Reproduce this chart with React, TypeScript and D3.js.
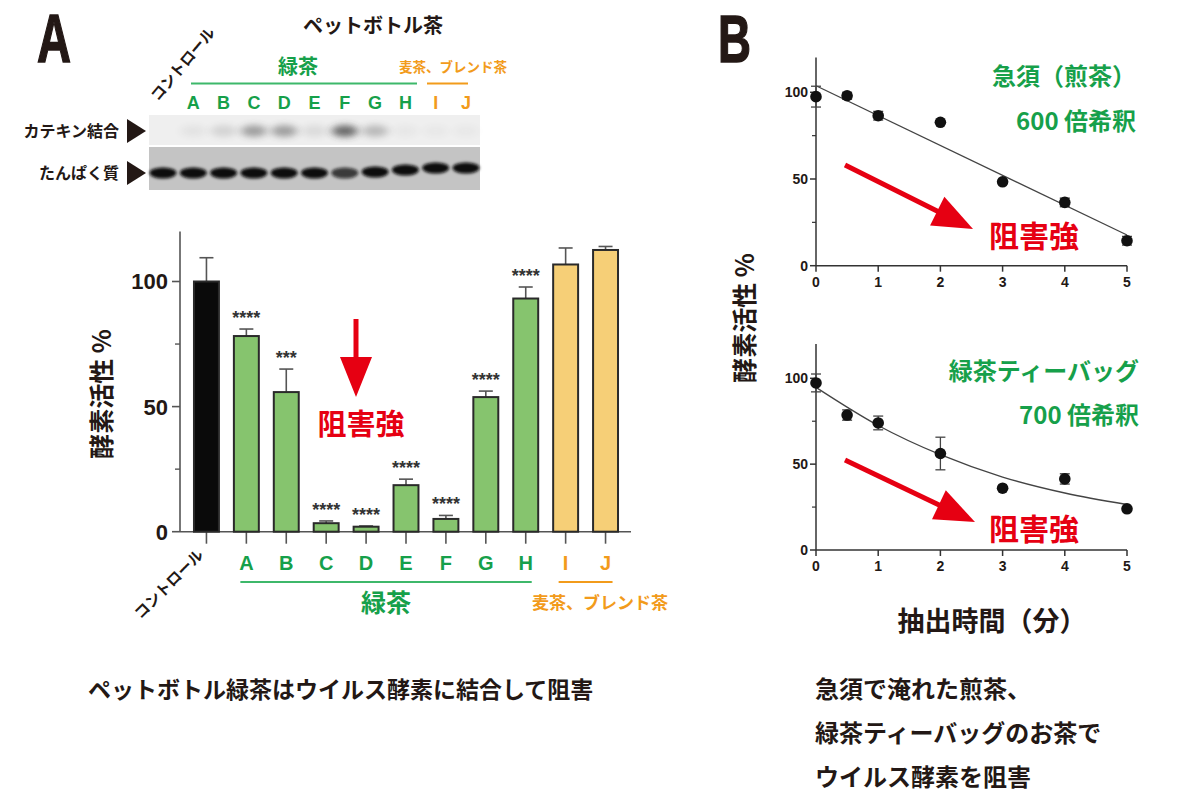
import React from "react";
import * as d3 from "d3";

// ---------- data ----------
const barCategories = ["コントロール", "A", "B", "C", "D", "E", "F", "G", "H", "I", "J"];
const barGroups = ["control", "green", "green", "green", "green", "green", "green", "green", "green", "other", "other"];
const barValues = [100, 78.2, 55.8, 3.4, 2.0, 18.6, 5.1, 53.8, 93.2, 106.8, 112.6];
const barErrors = [9.5, 2.8, 9.2, 0.9, 0.3, 2.4, 1.4, 2.4, 4.6, 6.6, 1.4];
const barStars = ["", "****", "***", "****", "****", "****", "****", "****", "****", "", ""];
const barYTicks = [0, 50, 100];
const barYMinor = [25, 75];

// gel (western blot) lane intensities, control + A..J
const gelLanes = ["control", "A", "B", "C", "D", "E", "F", "G", "H", "I", "J"];
const catechinBand = [0.0, 0.06, 0.14, 0.42, 0.42, 0.1, 0.7, 0.28, 0.04, 0.03, 0.03];
const proteinBand = [1, 1, 1, 1, 1, 1, 0.75, 1, 1, 1, 1];
const proteinShift = [0, 0, 0, 0, 0, 0, 0, -1, -3, -5, -5];

const timeTicks = [0, 1, 2, 3, 4, 5];
const lineYTicks = [0, 50, 100];
const lineYMinor = [25, 75];

const kyusuTimes = [0, 0.5, 1, 2, 3, 4, 5];
const kyusuValues = [97.5, 98, 86.5, 82.7, 48.4, 36.5, 14.4];
const kyusuErrors = [6, 2, 2.5, 0, 0, 2.5, 2.5];
const kyusuFitTimes = [0, 5];
const kyusuFitValues = [103.8, 17.7];

const bagTimes = [0, 0.5, 1, 2, 3, 4, 5];
const bagValues = [97.3, 78.6, 74, 56.2, 36, 41.4, 24];
const bagErrors = [5.2, 3, 4, 9.5, 0, 3, 0];
const bagFitTimes = [0, 1, 2, 3, 4, 5];
const bagFitValues = [94.7, 72.5, 55.5, 42.5, 33.2, 26.5];

// ---------- style ----------
const DARK = "#231815";
const GREEN_TXT = "#16a04a";
const ORANGE_TXT = "#f29b1b";
const GREEN_BAR = "#86c46e";
const ORANGE_BAR = "#f6cf77";
const RED = "#e60012";
const JP = "'Noto Sans CJK JP', 'Noto Sans', sans-serif";
const LAT = "'Liberation Sans', Arial, sans-serif";

function Arrow({ x1, y1, x2, y2, head = 40, half = 16, width = 5 }) {
  const dx = x2 - x1, dy = y2 - y1;
  const L = Math.hypot(dx, dy);
  const ux = dx / L, uy = dy / L;
  const nx = -uy, ny = ux;
  const bx = x2 - ux * head, by = y2 - uy * head;
  const pts = [
    [x2, y2],
    [bx + nx * half, by + ny * half],
    [bx - nx * half, by - ny * half],
  ];
  return (
    <g>
      <line x1={x1} y1={y1} x2={bx + ux * 2} y2={by + uy * 2} stroke={RED} strokeWidth={width} />
      <polygon points={pts.map((p) => p.join(",")).join(" ")} fill={RED} />
    </g>
  );
}

function LinePanel({ top, bottom, times, values, errors, fitT, fitV, curved, title1, title2, titleRight, titleY, arrow }) {
  const x = d3.scaleLinear().domain([0, 5]).range([816, 1127]);
  const y = d3.scaleLinear().domain([0, 100]).range([bottom, top]);
  const yTop = y(120);
  const line = d3
    .line<number>()
    .x((_, i) => x(fitT[i]))
    .y((d) => y(d))
    .curve(curved ? d3.curveMonotoneX : d3.curveLinear);
  return (
    <g>
      <line x1={x(0)} y1={yTop} x2={x(0)} y2={y(0)} stroke="#333" strokeWidth={1.5} />
      <line x1={x(0)} y1={y(0)} x2={x(5)} y2={y(0)} stroke="#333" strokeWidth={1.5} />
      {lineYTicks.map((t) => (
        <g key={t}>
          <line x1={x(0) - 6} x2={x(0)} y1={y(t)} y2={y(t)} stroke="#333" strokeWidth={1.5} />
          <text x={x(0) - 8} y={y(t)} dy="0.35em" textAnchor="end" fontFamily={LAT} fontWeight="bold" fontSize={14} fill={DARK}>
            {t}
          </text>
        </g>
      ))}
      {lineYMinor.map((t) => (
        <line key={t} x1={x(0) - 4} x2={x(0)} y1={y(t)} y2={y(t)} stroke="#333" strokeWidth={1.2} />
      ))}
      {timeTicks.map((t) => (
        <g key={t}>
          <line x1={x(t)} x2={x(t)} y1={y(0)} y2={y(0) + 6} stroke="#333" strokeWidth={1.5} />
          <text x={x(t)} y={y(0) + 21} textAnchor="middle" fontFamily={LAT} fontWeight="bold" fontSize={14} fill={DARK}>
            {t}
          </text>
        </g>
      ))}
      <path d={line(fitV) || ""} fill="none" stroke="#444" strokeWidth={1.3} />
      {times.map((t, i) => (
        <g key={i}>
          {errors[i] > 0 && (
            <g stroke="#444" strokeWidth={1.3}>
              <line x1={x(t)} x2={x(t)} y1={y(values[i] - errors[i])} y2={y(values[i] + errors[i])} />
              <line x1={x(t) - 5} x2={x(t) + 5} y1={y(values[i] - errors[i])} y2={y(values[i] - errors[i])} />
              <line x1={x(t) - 5} x2={x(t) + 5} y1={y(values[i] + errors[i])} y2={y(values[i] + errors[i])} />
            </g>
          )}
          <circle cx={x(t)} cy={y(values[i])} r={5.8} fill="#111" />
        </g>
      ))}
      <text x={titleRight} y={titleY[0]} dy="0.35em" textAnchor="end" fontFamily={JP} fontWeight="bold" fontSize={24} fill={GREEN_TXT}>
        {title1}
      </text>
      <text x={titleRight} y={titleY[1]} dy="0.35em" textAnchor="end" fontFamily={JP} fontWeight="bold" fontSize={24} fill={GREEN_TXT}>
        {title2}
      </text>
      <Arrow x1={arrow[0]} y1={arrow[1]} x2={arrow[2]} y2={arrow[3]} />
      <text x={1034} y={arrow[3] + 7} dy="0.35em" textAnchor="middle" fontFamily={JP} fontWeight="bold" fontSize={30} fill={RED}>
        阻害強
      </text>
    </g>
  );
}

export default function App() {
  // Bar chart (panel A)
  const xb = d3.scaleBand().domain(barCategories).range([186, 626]).paddingInner(0.375).paddingOuter(0.2);
  const yb = d3.scaleLinear().domain([0, 100]).range([531.7, 281.5]);
  const bw = xb.bandwidth();
  const cx = (c: string) => (xb(c) as number) + bw / 2;
  const fillFor = (g: string) => (g === "control" ? "#0a0a0a" : g === "green" ? GREEN_BAR : ORANGE_BAR);

  // gel lanes
  const gx = d3.scalePoint().domain(gelLanes).range([163, 466]);
  const gelLetters = gelLanes.slice(1);

  return (
    <svg width={1200} height={800} style={{ position: "absolute", left: 0, top: 0, background: "#fff" }}>
      <defs>
        <filter id="blurBig" x="-50%" y="-100%" width="200%" height="300%">
          <feGaussianBlur stdDeviation="4 3" />
        </filter>
        <filter id="blurSm" x="-50%" y="-100%" width="200%" height="300%">
          <feGaussianBlur stdDeviation="1.6 1.4" />
        </filter>
      </defs>

      {/* Big panel letters */}
      <text x={37} y={62} fontFamily={LAT} fontWeight="bold" fontSize={68} fill={DARK} stroke={DARK} strokeWidth={1.5} textLength={34} lengthAdjust="spacingAndGlyphs">
        A
      </text>
      <text x={718} y={62} fontFamily={LAT} fontWeight="bold" fontSize={67} fill={DARK} stroke={DARK} strokeWidth={1.5} textLength={33} lengthAdjust="spacingAndGlyphs">
        B
      </text>

      {/* Gel header */}
      <text x={373} y={26} dy="0.35em" textAnchor="middle" fontFamily={JP} fontWeight="bold" fontSize={20} fill={DARK}>
        ペットボトル茶
      </text>
      <text x={0} y={0} fontFamily={JP} fontWeight="bold" fontSize={15} fill={DARK} transform="translate(158,102) rotate(-50)">
        コントロール
      </text>
      <text x={298} y={67} dy="0.35em" textAnchor="middle" fontFamily={JP} fontWeight="bold" fontSize={20} fill={GREEN_TXT}>
        緑茶
      </text>
      <text x={453} y={67} dy="0.35em" textAnchor="middle" fontFamily={JP} fontWeight="bold" fontSize={13.5} fill={ORANGE_TXT}>
        麦茶、ブレンド茶
      </text>
      <line x1={191} x2={417} y1={83.5} y2={83.5} stroke="#3db86a" strokeWidth={1.8} />
      <line x1={427} x2={468} y1={83.5} y2={83.5} stroke={ORANGE_TXT} strokeWidth={1.8} />
      {gelLetters.map((l, i) => (
        <text key={l} x={gx(l)} y={103} dy="0.35em" textAnchor="middle" fontFamily={LAT} fontWeight="bold" fontSize={18} fill={i < 8 ? GREEN_TXT : ORANGE_TXT}>
          {l}
        </text>
      ))}
      {/* gel strips */}
      <rect x={149} y={115} width={331} height={30} fill="#efefef" />
      <rect x={149} y={147} width={331} height={43} fill="#c4c4c4" />
      {gelLanes.map((l, i) =>
        catechinBand[i] > 0 ? (
          <ellipse key={"c" + l} cx={gx(l)} cy={131} rx={13} ry={6} fill="#333" opacity={catechinBand[i]} filter="url(#blurBig)" />
        ) : null
      )}
      {gelLanes.map((l, i) => (
        <ellipse key={"p" + l} cx={gx(l)} cy={173 + proteinShift[i]} rx={13.5} ry={5.5} fill="#0a0a0a" opacity={proteinBand[i]} filter="url(#blurSm)" />
      ))}
      <text x={119} y={131} dy="0.35em" textAnchor="end" fontFamily={JP} fontWeight="bold" fontSize={16} fill={DARK}>
        カテキン結合
      </text>
      <polygon points="127,119 146,131 127,143" fill={DARK} />
      <text x={119} y={173} dy="0.35em" textAnchor="end" fontFamily={JP} fontWeight="bold" fontSize={16} fill={DARK}>
        たんぱく質
      </text>
      <polygon points="127,161 146,173 127,185" fill={DARK} />

      {/* Bar chart axes */}
      <line x1={180} x2={180} y1={yb(120)} y2={yb(0)} stroke="#555" strokeWidth={1.6} />
      <line x1={180} x2={631} y1={yb(0)} y2={yb(0)} stroke="#555" strokeWidth={1.6} />
      {barYTicks.map((t) => (
        <g key={t}>
          <line x1={172} x2={180} y1={yb(t)} y2={yb(t)} stroke="#555" strokeWidth={1.6} />
          <text x={168} y={yb(t)} dy="0.36em" textAnchor="end" fontFamily={LAT} fontWeight="bold" fontSize={22} fill={DARK}>
            {t}
          </text>
        </g>
      ))}
      {barYMinor.map((t) => (
        <line key={t} x1={175} x2={180} y1={yb(t)} y2={yb(t)} stroke="#555" strokeWidth={1.4} />
      ))}
      {barCategories.map((c) => (
        <line key={c} x1={cx(c)} x2={cx(c)} y1={yb(0)} y2={yb(0) + 12} stroke="#555" strokeWidth={1.6} />
      ))}
      {/* error bars */}
      {barCategories.map((c, i) => (
        <g key={"e" + c} stroke="#555" strokeWidth={1.6}>
          <line x1={cx(c)} x2={cx(c)} y1={yb(barValues[i])} y2={yb(barValues[i] + barErrors[i])} />
          <line x1={cx(c) - 7} x2={cx(c) + 7} y1={yb(barValues[i] + barErrors[i])} y2={yb(barValues[i] + barErrors[i])} />
        </g>
      ))}
      {/* bars */}
      {barCategories.map((c, i) => (
        <rect key={"b" + c} x={xb(c)} y={yb(barValues[i])} width={bw} height={yb(0) - yb(barValues[i])} fill={fillFor(barGroups[i])} stroke="#2a2a2a" strokeWidth={2} />
      ))}
      {barCategories.map((c, i) =>
        barStars[i] ? (
          <text key={"s" + c} x={cx(c)} y={yb(barValues[i] + barErrors[i]) - 5} textAnchor="middle" fontFamily={LAT} fontWeight="bold" fontSize={18} fill="#333">
            {barStars[i]}
          </text>
        ) : null
      )}
      {/* x labels */}
      {barCategories.slice(1).map((c, i) => (
        <text key={"l" + c} x={cx(c)} y={563} dy="0.35em" textAnchor="middle" fontFamily={LAT} fontWeight="bold" fontSize={20} fill={i < 8 ? GREEN_TXT : ORANGE_TXT}>
          {c}
        </text>
      ))}
      <text x={0} y={0} textAnchor="end" fontFamily={JP} fontWeight="bold" fontSize={15} fill={DARK} transform={`translate(${cx("コントロール") - 2},556) rotate(-45)`}>
        コントロール
      </text>
      <line x1={cx("A") - 6} x2={cx("H") + 6} y1={582} y2={582} stroke="#3db86a" strokeWidth={1.8} />
      <line x1={cx("I") - 7} x2={cx("J") + 7} y1={582} y2={582} stroke={ORANGE_TXT} strokeWidth={1.8} />
      <text x={(cx("A") + cx("H")) / 2} y={603} dy="0.35em" textAnchor="middle" fontFamily={JP} fontWeight="bold" fontSize={25} fill={GREEN_TXT}>
        緑茶
      </text>
      <text x={600} y={603} dy="0.35em" textAnchor="middle" fontFamily={JP} fontWeight="bold" fontSize={17} fill={ORANGE_TXT}>
        麦茶、ブレンド茶
      </text>
      <text x={0} y={0} textAnchor="middle" dy="0.35em" fontFamily={JP} fontWeight="bold" fontSize={25} fill={DARK} transform="translate(102,394) rotate(-90)">
        酵素活性 %
      </text>
      <Arrow x1={356} y1={319} x2={356} y2={397} head={40} half={16} width={5} />
      <text x={361} y={425} dy="0.35em" textAnchor="middle" fontFamily={JP} fontWeight="bold" fontSize={29} fill={RED}>
        阻害強
      </text>

      {/* Panel B */}
      <LinePanel
        top={92.3}
        bottom={265.7}
        times={kyusuTimes}
        values={kyusuValues}
        errors={kyusuErrors}
        fitT={kyusuFitTimes}
        fitV={kyusuFitValues}
        curved={false}
        title1="急須（煎茶）"
        title2="600 倍希釈"
        titleRight={1136}
        titleY={[77, 122]}
        arrow={[845, 165, 973, 229]}
      />
      <LinePanel
        top={378.3}
        bottom={550}
        times={bagTimes}
        values={bagValues}
        errors={bagErrors}
        fitT={bagFitTimes}
        fitV={bagFitValues}
        curved={true}
        title1="緑茶ティーバッグ"
        title2="700 倍希釈"
        titleRight={1139}
        titleY={[372, 416]}
        arrow={[845, 460, 975, 522]}
      />
      <text x={0} y={0} textAnchor="middle" dy="0.35em" fontFamily={JP} fontWeight="bold" fontSize={25} fill={DARK} transform="translate(745,318) rotate(-90)">
        酵素活性 %
      </text>
      <text x={992} y={622} dy="0.35em" textAnchor="middle" fontFamily={JP} fontWeight="bold" fontSize={27} fill={DARK}>
        抽出時間（分）
      </text>

      {/* captions */}
      <text x={88} y={690} dy="0.35em" fontFamily={JP} fontWeight="bold" fontSize={23} fill={DARK}>
        ペットボトル緑茶はウイルス酵素に結合して阻害
      </text>
      <text x={815} y={690} dy="0.35em" fontFamily={JP} fontWeight="bold" fontSize={24} fill={DARK}>
        急須で淹れた煎茶、
      </text>
      <text x={815} y={734} dy="0.35em" fontFamily={JP} fontWeight="bold" fontSize={24} fill={DARK}>
        緑茶ティーバッグのお茶で
      </text>
      <text x={815} y={778} dy="0.35em" fontFamily={JP} fontWeight="bold" fontSize={24} fill={DARK}>
        ウイルス酵素を阻害
      </text>
    </svg>
  );
}
